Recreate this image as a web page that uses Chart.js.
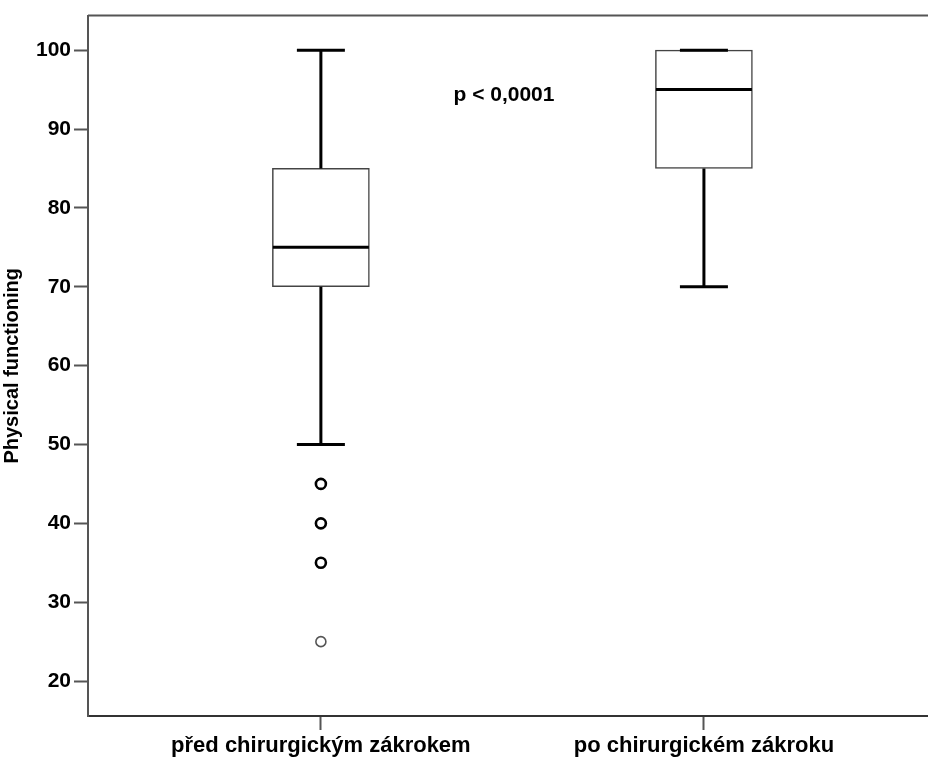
<!DOCTYPE html>
<html>
<head>
<meta charset="utf-8">
<script src="https://cdn.jsdelivr.net/npm/chart.js@4.4.1/dist/chart.umd.min.js"></script>
<style>
  html, body { margin: 0; padding: 0; background: #fff; }
  #wrap { width: 928px; height: 758px; }
</style>
</head>
<body>
<div id="wrap"><canvas id="myChart" width="928" height="758"></canvas></div>
<script>
// data
var categories = ['před chirurgickým zákrokem', 'po chirurgickém zákroku'];
var whiskerLow = [50, 70];
var q1 = [70, 85];
var median = [75, 95];
var q3 = [85, 100];
var whiskerHigh = [100, 100];
var outliers = [45, 40, 35, 25];          // all in first group
var outlierGroup = [1, 1, 1, 1];
var yTicks = [20, 30, 40, 50, 60, 70, 80, 90, 100];
var pLabel = 'p < 0,0001';

var FONT = '"Liberation Sans", Arial, sans-serif';

// whiskers, caps, medians, frame top line and p value text
var boxExtras = {
    id: 'boxExtras',
    afterDatasetsDraw: function (chart) {
        var ctx = chart.ctx;
        var xs = chart.scales.x, ys = chart.scales.y;
        var area = chart.chartArea;
        ctx.save();
        ctx.lineCap = 'butt';
        for (var i = 0; i < categories.length; i++) {
            var cx = xs.getPixelForValue(i + 1);
            ctx.strokeStyle = '#000';
            ctx.lineWidth = 3;
            ctx.beginPath();
            ctx.moveTo(cx, ys.getPixelForValue(whiskerLow[i]));
            ctx.lineTo(cx, ys.getPixelForValue(q1[i]));
            ctx.moveTo(cx, ys.getPixelForValue(q3[i]));
            ctx.lineTo(cx, ys.getPixelForValue(whiskerHigh[i]));
            // caps
            ctx.moveTo(cx - 24, ys.getPixelForValue(whiskerLow[i]));
            ctx.lineTo(cx + 24, ys.getPixelForValue(whiskerLow[i]));
            ctx.moveTo(cx - 24, ys.getPixelForValue(whiskerHigh[i]));
            ctx.lineTo(cx + 24, ys.getPixelForValue(whiskerHigh[i]));
            ctx.stroke();
            // median
            ctx.beginPath();
            ctx.moveTo(cx - 48, ys.getPixelForValue(median[i]));
            ctx.lineTo(cx + 48, ys.getPixelForValue(median[i]));
            ctx.stroke();
        }
        // top frame line
        ctx.strokeStyle = '#555';
        ctx.lineWidth = 2;
        ctx.beginPath();
        ctx.moveTo(area.left, area.top);
        ctx.lineTo(chart.width, area.top);
        ctx.stroke();
        // p value
        ctx.fillStyle = '#000';
        ctx.font = 'bold 21px ' + FONT;
        ctx.textAlign = 'center';
        ctx.textBaseline = 'middle';
        ctx.fillText(pLabel, xs.getPixelForValue(1.478), ys.getPixelForValue(94.3));
        ctx.restore();
    }
};

var ctx = document.getElementById('myChart').getContext('2d');
var myChart = new Chart(ctx, {
    type: 'bar',
    data: {
        datasets: [{
            label: 'box',
            data: categories.map(function (c, i) { return { x: i + 1, y: [q1[i], q3[i]] }; }),
            backgroundColor: '#fff',
            borderColor: '#444',
            borderWidth: 1.5,
            borderSkipped: false,
            barThickness: 97,
            order: 2
        }, {
            type: 'scatter',
            label: 'outliers',
            data: outliers.map(function (v, i) { return { x: outlierGroup[i], y: v }; }),
            pointRadius: 5,
            pointBorderWidth: [2.6, 2.6, 2.6, 1.6],
            pointBorderColor: ['#000', '#000', '#000', '#555'],
            pointBackgroundColor: '#fff',
            order: 1
        }]
    },
    options: {
        responsive: false,
        animation: false,
        layout: { autoPadding: false, padding: { top: 14, right: 0, left: 0, bottom: 0 } },
        plugins: { legend: { display: false }, tooltip: { enabled: false } },
        scales: {
            x: {
                type: 'linear',
                min: 0.392,
                max: 2.585,
                offset: false,
                afterBuildTicks: function (s) {
                    s.ticks = categories.map(function (c, i) { return { value: i + 1 }; });
                },
                afterFit: function (s) {
                    s.height = 42;
                    s.paddingLeft = 0;
                    s.paddingRight = 0;
                },
                grid: { offset: false, drawOnChartArea: false, tickLength: 14, tickColor: '#555', tickWidth: 2 },
                border: { color: '#333', width: 2 },
                ticks: {
                    autoSkip: false,
                    maxRotation: 0,
                    padding: 3,
                    color: '#000',
                    font: { family: FONT, size: 22, weight: 'bold' },
                    callback: function (v) { return categories[v - 1]; }
                }
            },
            y: {
                min: 15.57,
                max: 104.38,
                afterBuildTicks: function (s) {
                    s.ticks = yTicks.map(function (v) { return { value: v }; });
                },
                afterFit: function (s) { s.width = 88; },
                grid: { drawOnChartArea: false, tickLength: 14, tickColor: '#555', tickWidth: 2 },
                border: { color: '#555', width: 2 },
                ticks: {
                    padding: 3,
                    color: '#000',
                    font: { family: FONT, size: 21, weight: 'bold' }
                },
                title: {
                    display: true,
                    text: 'Physical functioning',
                    color: '#000',
                    padding: { top: 0, bottom: 4 },
                    font: { family: FONT, size: 20, weight: 'bold' }
                }
            }
        }
    },
    plugins: [boxExtras]
});
</script>
</body>
</html>
